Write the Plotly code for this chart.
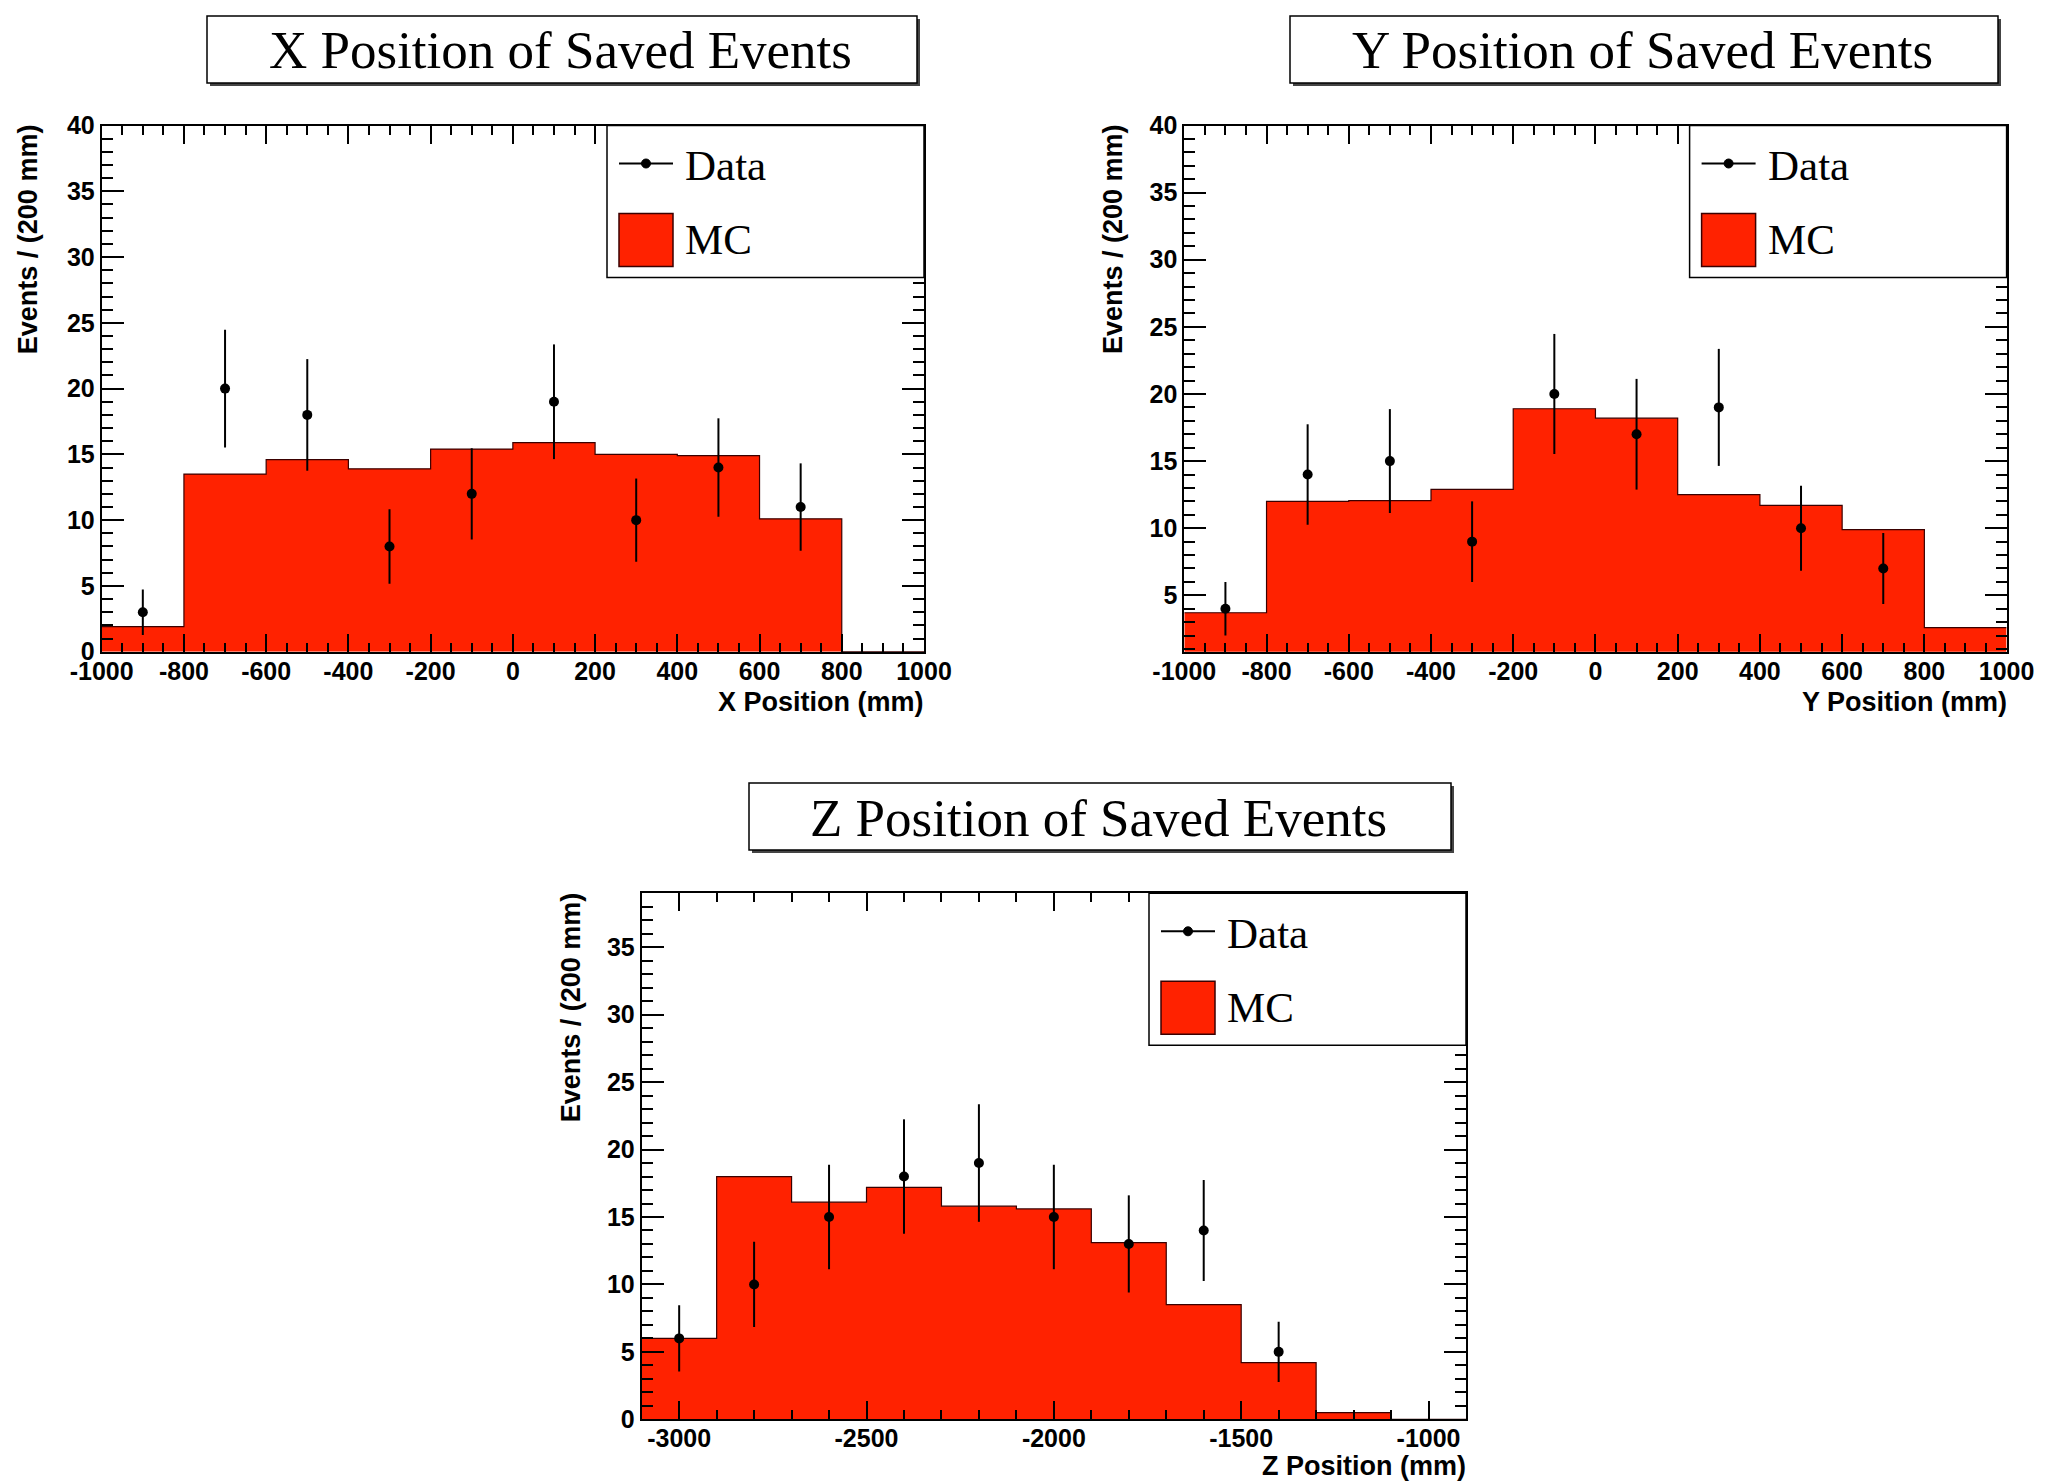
import math
import plotly.graph_objects as go

# ---- X position histogram ----
x_edges = [-1000, -800, -600, -400, -200, 0, 200, 400, 600, 800, 1000]
x_mc = [1.9, 13.5, 14.6, 13.9, 15.4, 15.9, 15.0, 14.9, 10.1, 0.0]
x_centers = [-900, -700, -500, -300, -100, 100, 300, 500, 700]
x_data = [3, 20, 18, 8, 12, 19, 10, 14, 11]

# ---- Y position histogram ----
y_edges = [-1000, -800, -600, -400, -200, 0, 200, 400, 600, 800, 1000]
y_mc = [3.7, 12.0, 12.05, 12.9, 18.9, 18.2, 12.5, 11.7, 9.9, 2.6]
y_centers = [-900, -700, -500, -300, -100, 100, 300, 500, 700]
y_data = [4, 14, 15, 9, 20, 17, 19, 10, 7]

# ---- Z position histogram ----
z_edges = [-3100, -2900, -2700, -2500, -2300, -2100, -1900, -1700, -1500, -1300, -1100, -900]
z_mc = [6.0, 18.0, 16.1, 17.2, 15.8, 15.6, 13.1, 8.5, 4.2, 0.5, 0.0]
z_centers = [-3000, -2800, -2600, -2400, -2200, -2000, -1800, -1600, -1400]
z_data = [6, 10, 15, 18, 19, 15, 13, 14, 5]

# ---- tick labels (plain hyphen minus signs) ----
xy_tickvals = [-1000, -800, -600, -400, -200, 0, 200, 400, 600, 800, 1000]
xy_ticktext = ["-1000", "-800", "-600", "-400", "-200", "0", "200", "400", "600", "800", "1000"]
z_tickvals = [-3000, -2500, -2000, -1500, -1000]
z_ticktext = ["-3000", "-2500", "-2000", "-1500", "-1000"]
count_tickvals = [0, 5, 10, 15, 20, 25, 30, 35, 40]
count_ticktext = ["0", "5", "10", "15", "20", "25", "30", "35", "40"]

titles = ["X Position of Saved Events", "Y Position of Saved Events", "Z Position of Saved Events"]
x_titles = ["X Position (mm)", "Y Position (mm)", "Z Position (mm)"]
y_title = "Events / (200 mm)"

W, H = 2045, 1482
RED = "#ff2200"


def px(x):
    return x / W


def py(y):
    return 1 - y / H


# pixel boxes of the three frames: left, right, top, bottom
frames = [
    (101.7, 924.0, 125.5, 651.7),
    (1184.3, 2006.6, 125.5, 651.7),
    (641.7, 1466.0, 893.3, 1419.3),
]
title_boxes = [
    (207, 917, 16, 83),
    (1290, 1998, 16, 83),
    (749, 1451, 783, 850),
]
x_ranges = [[-1000, 1000], [-1000, 1000], [-3100, -900]]
y_ranges = [[0, 40], [0.8, 40], [0, 39]]
x_ticks = [(xy_tickvals, xy_ticktext), (xy_tickvals, xy_ticktext), (z_tickvals, z_ticktext)]
x_minor = [50, 50, 100]
ytitle_x = [28.7, 1113.6, 571.0]
xtitle_gap = [50, 50, 47]

hists = [
    (x_edges, x_mc, x_centers, x_data),
    (y_edges, y_mc, y_centers, y_data),
    (z_edges, z_mc, z_centers, z_data),
]

fig = go.Figure()
shapes = []
annotations = []

tick_font = dict(family="Liberation Sans", size=25, color="black", weight="bold")
label_font = dict(family="Liberation Sans", size=27, color="black", weight="bold")
serif = "Liberation Serif"

for i, (edges, mc, centers, data) in enumerate(hists):
    sfx = "" if i == 0 else str(i + 1)
    xa, ya = "x" + sfx, "y" + sfx

    # MC histogram as a filled step outline
    step_x = list(edges)
    step_y = list(mc) + [mc[-1]]
    fig.add_trace(go.Scatter(
        x=step_x, y=step_y, mode="lines", line=dict(shape="hv", color="#3a0000", width=1.2),
        fill="tozeroy", fillcolor=RED, xaxis=xa, yaxis=ya, showlegend=False, hoverinfo="skip",
    ))
    # Data points with Poisson errors
    fig.add_trace(go.Scatter(
        x=centers, y=data, mode="markers",
        marker=dict(color="black", size=10),
        error_y=dict(type="data", array=[math.sqrt(v) for v in data], color="black",
                     thickness=2, width=0),
        xaxis=xa, yaxis=ya, showlegend=False,
    ))

    l, r, t, b = frames[i]
    axis_common = dict(
        showline=True, linecolor="black", linewidth=2, mirror="ticks",
        ticks="inside", tickcolor="black", tickwidth=2, automargin=False,
        showgrid=False, zeroline=False, tickfont=tick_font,
    )
    tv, tt_ = x_ticks[i]
    fig.layout["xaxis" + sfx] = dict(
        axis_common, domain=[px(l), px(r)], anchor=ya, range=x_ranges[i],
        tickmode="array", tickvals=tv, ticktext=tt_, ticklen=18, ticklabelstandoff=-4,
        minor=dict(ticks="inside", ticklen=9, tickwidth=2, tickcolor="black",
                   tickmode="linear", dtick=x_minor[i], tick0=0),
    )
    fig.layout["yaxis" + sfx] = dict(
        axis_common, domain=[py(b), py(t)], anchor=xa, range=y_ranges[i],
        tickmode="array", tickvals=count_tickvals, ticktext=count_ticktext, ticklen=22,
        minor=dict(ticks="inside", ticklen=11, tickwidth=2, tickcolor="black",
                   tickmode="linear", dtick=1, tick0=0),
    )

    # axis titles
    annotations.append(dict(
        text=x_titles[i], xref="paper", yref="paper", x=px(r + 2), y=py(b + xtitle_gap[i]),
        xanchor="right", yanchor="middle", showarrow=False, font=label_font,
    ))
    annotations.append(dict(
        text=y_title, xref="paper", yref="paper", x=px(ytitle_x[i]), y=py(t - 3), xanchor="center",
        yanchor="top", textangle=-90, showarrow=False, font=label_font,
    ))

    # legend box in the top-right corner of the frame
    lw, lh = 317, 152
    lx0, ly0 = r - lw, t
    shapes.append(dict(type="rect", xref="paper", yref="paper", x0=px(lx0), x1=px(r),
                       y0=py(ly0 + lh), y1=py(ly0), fillcolor="white",
                       line=dict(color="black", width=1.5), layer="above"))
    shapes.append(dict(type="line", xref="paper", yref="paper", x0=px(lx0 + 12), x1=px(lx0 + 66),
                       y0=py(ly0 + 38), y1=py(ly0 + 38), line=dict(color="black", width=2), layer="above"))
    shapes.append(dict(type="circle", xref="paper", yref="paper", x0=px(lx0 + 34.5), x1=px(lx0 + 43.5),
                       y0=py(ly0 + 42.5), y1=py(ly0 + 33.5), fillcolor="black",
                       line=dict(color="black", width=1), layer="above"))
    shapes.append(dict(type="rect", xref="paper", yref="paper", x0=px(lx0 + 12), x1=px(lx0 + 66),
                       y0=py(ly0 + 141), y1=py(ly0 + 88), fillcolor=RED,
                       line=dict(color="#3a0000", width=1.5), layer="above"))
    annotations.append(dict(text="Data", xref="paper", yref="paper", x=px(lx0 + 76), y=py(ly0 + 40),
                            xanchor="left", yanchor="middle", showarrow=False,
                            font=dict(family=serif, size=43, color="black")))
    annotations.append(dict(text="MC", xref="paper", yref="paper", x=px(lx0 + 76), y=py(ly0 + 114),
                            xanchor="left", yanchor="middle", showarrow=False,
                            font=dict(family=serif, size=43, color="black")))

    # title box with drop shadow
    tl, tr, tt, tb = title_boxes[i]
    shapes.append(dict(type="rect", xref="paper", yref="paper", x0=px(tl + 3), x1=px(tr + 3),
                       y0=py(tb + 3), y1=py(tt + 3), fillcolor="#444444",
                       line=dict(width=0), layer="above"))
    shapes.append(dict(type="rect", xref="paper", yref="paper", x0=px(tl), x1=px(tr),
                       y0=py(tb), y1=py(tt), fillcolor="white",
                       line=dict(color="black", width=1.5), layer="above"))
    annotations.append(dict(text=titles[i], xref="paper", yref="paper", x=px((tl + tr) / 2 - 2),
                            y=py((tt + tb) / 2 + 1), xanchor="center", yanchor="middle",
                            showarrow=False, font=dict(family=serif, size=53, color="black")))

fig.update_layout(
    width=W, height=H, margin=dict(l=0, r=0, t=0, b=0, autoexpand=False),
    paper_bgcolor="white", plot_bgcolor="white",
    shapes=shapes, annotations=annotations, showlegend=False,
)

fig.write_html("out.html")
